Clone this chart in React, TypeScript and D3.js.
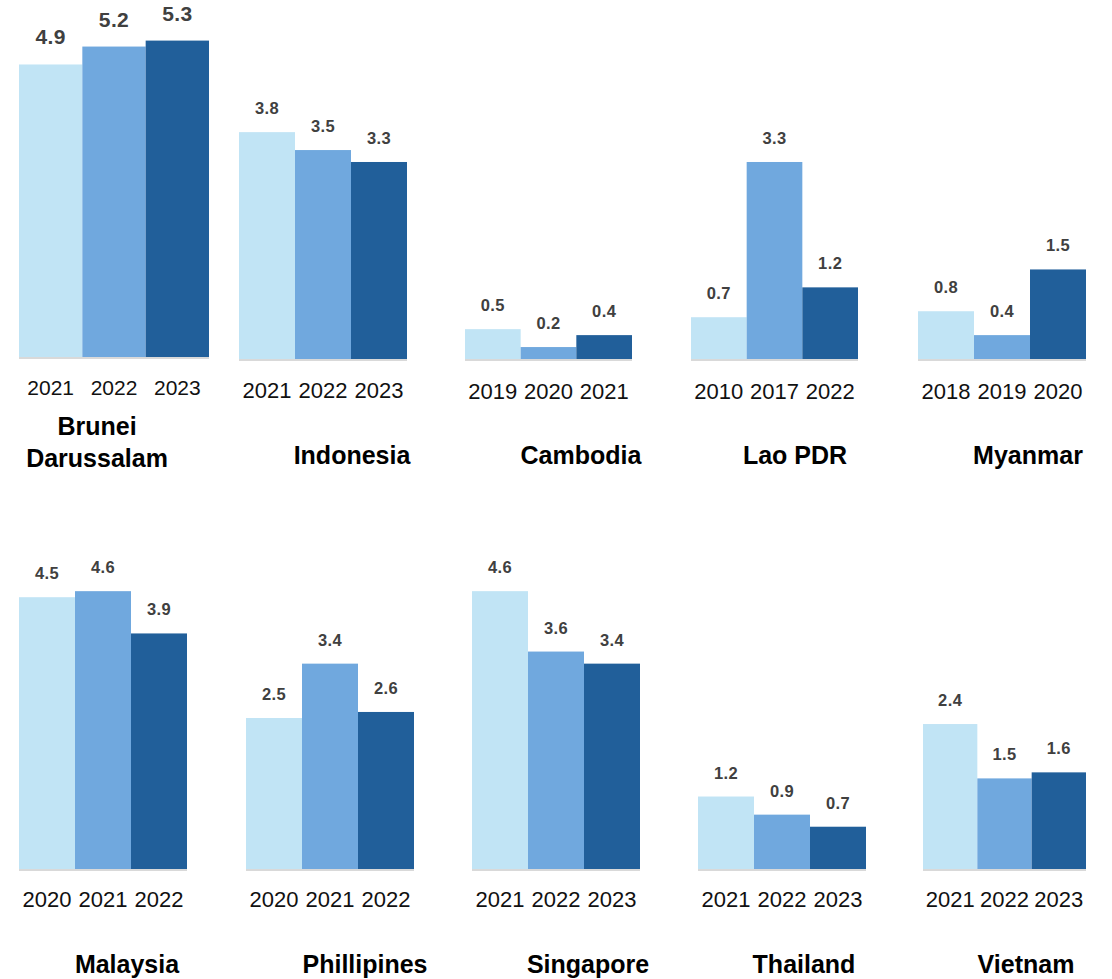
import React from 'react';
import * as d3 from 'd3';

// Country names (Brunei split over two lines)
const countries = [
  ['Brunei', 'Darussalam'],
  ['Indonesia'],
  ['Cambodia'],
  ['Lao PDR'],
  ['Myanmar'],
  ['Malaysia'],
  ['Phillipines'],
  ['Singapore'],
  ['Thailand'],
  ['Vietnam'],
];

// Year labels for each country's three bars
const yearLabels = [
  ['2021', '2022', '2023'],
  ['2021', '2022', '2023'],
  ['2019', '2020', '2021'],
  ['2010', '2017', '2022'],
  ['2018', '2019', '2020'],
  ['2020', '2021', '2022'],
  ['2020', '2021', '2022'],
  ['2021', '2022', '2023'],
  ['2021', '2022', '2023'],
  ['2021', '2022', '2023'],
];

// Values for each country's three bars
const values = [
  [4.9, 5.2, 5.3],
  [3.8, 3.5, 3.3],
  [0.5, 0.2, 0.4],
  [0.7, 3.3, 1.2],
  [0.8, 0.4, 1.5],
  [4.5, 4.6, 3.9],
  [2.5, 3.4, 2.6],
  [4.6, 3.6, 3.4],
  [1.2, 0.9, 0.7],
  [2.4, 1.5, 1.6],
];

const barColors = ['#C1E4F5', '#70A8DE', '#215F9A'];

// Panel placement on the page
const layout = [
  { x0: 19, x1: 209, base: 357, ppu: 59.7, titleX: 97, yearY: 395, titleY: 435, big: true },
  { x0: 239, x1: 407, base: 359, ppu: 59.7, titleX: 352, yearY: 398, titleY: 464 },
  { x0: 465, x1: 632, base: 359, ppu: 59.7, titleX: 581, yearY: 399, titleY: 464 },
  { x0: 691, x1: 858, base: 359, ppu: 59.7, titleX: 795, yearY: 399, titleY: 464 },
  { x0: 918, x1: 1086, base: 359, ppu: 59.7, titleX: 1028, yearY: 399, titleY: 464 },
  { x0: 19, x1: 187, base: 869, ppu: 60.4, titleX: 127, yearY: 907, titleY: 973 },
  { x0: 246, x1: 414, base: 869, ppu: 60.4, titleX: 365, yearY: 907, titleY: 973 },
  { x0: 472, x1: 640, base: 869, ppu: 60.4, titleX: 588, yearY: 907, titleY: 973 },
  { x0: 698, x1: 866, base: 869, ppu: 60.4, titleX: 804, yearY: 907, titleY: 973 },
  { x0: 923, x1: 1086, base: 869, ppu: 60.4, titleX: 1026, yearY: 907, titleY: 973 },
];

const FONT = '"Liberation Sans", Arial, sans-serif';

function Panel({ idx }: { idx: number }) {
  const L = layout[idx];
  const years = yearLabels[idx];
  const vals = values[idx];
  const x = d3.scaleBand<string>().domain(years).range([L.x0, L.x1]).padding(0);
  const y = d3.scaleLinear().domain([0, 6]).range([L.base, L.base - 6 * L.ppu]);
  const labelSize = L.big ? 21 : 16.5;
  const labelGap = L.big ? 20 : 18;
  const yearSize = L.big ? 21 : 22;
  const names = countries[idx];
  return (
    <g>
      {vals.map((v, i) => (
        <rect
          key={i}
          x={x(years[i])}
          y={y(v)}
          width={x.bandwidth()}
          height={y(0) - y(v)}
          fill={barColors[i]}
        />
      ))}
      <line x1={L.x0} x2={L.x1} y1={L.base + 1} y2={L.base + 1} stroke="#D9D9D9" strokeWidth={2} />
      {vals.map((v, i) => (
        <text
          key={'l' + i}
          x={(x(years[i]) as number) + x.bandwidth() / 2}
          y={y(v) - labelGap}
          textAnchor="middle"
          fontFamily={FONT}
          fontWeight="bold"
          fontSize={labelSize}
          letterSpacing={0.4}
          fill="#404040"
        >
          {d3.format('.1f')(v)}
        </text>
      ))}
      {years.map((yr, i) => (
        <text
          key={'y' + i}
          x={(x(yr) as number) + x.bandwidth() / 2}
          y={L.yearY}
          textAnchor="middle"
          fontFamily={FONT}
          fontSize={yearSize}
          fill="#111"
        >
          {yr}
        </text>
      ))}
      {names.map((n, i) => (
        <text
          key={'t' + i}
          x={L.titleX}
          y={L.titleY + i * 32}
          textAnchor="middle"
          fontFamily={FONT}
          fontWeight="bold"
          fontSize={25}
          fill="#000"
        >
          {n}
        </text>
      ))}
    </g>
  );
}

export default function App() {
  return (
    <svg
      width={1112}
      height={979}
      viewBox="0 0 1112 979"
      style={{ position: 'absolute', left: 0, top: 0, background: '#fff' }}
    >
      <rect width={1112} height={979} fill="#fff" />
      {layout.map((_, i) => (
        <Panel key={i} idx={i} />
      ))}
    </svg>
  );
}
